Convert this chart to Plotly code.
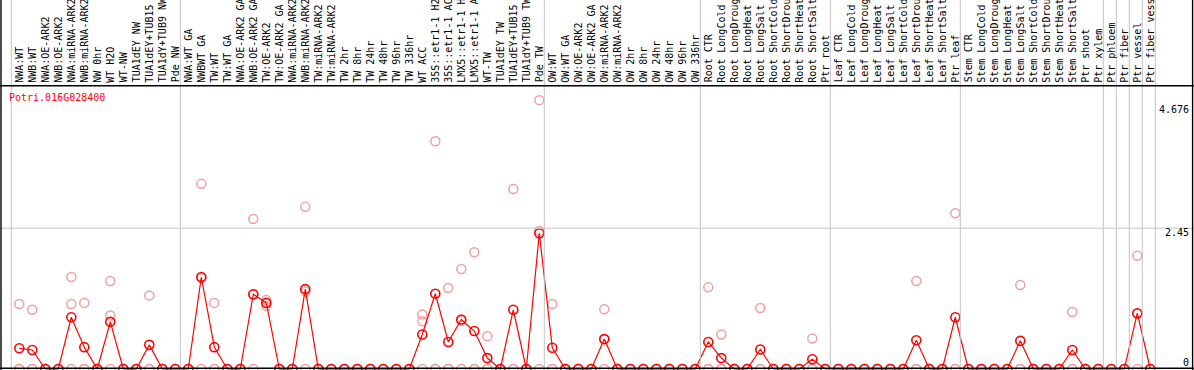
import plotly.graph_objects as go

gene = "Potri.016G028400"

samples = [
    "NWA:WT", "NWB:WT", "NWA:OE-ARK2", "NWB:OE-ARK2", "NWA:miRNA-ARK2", "NWB:miRNA-ARK2",
    "NW 0hr", "WT H2O", "WT-NW", "TUA1dEY NW", "TUA1dEY+TUB15", "TUA1dY+TUB9 NW", "Pde NW",
    "NWA:WT GA", "NWBWT GA", "TW:WT", "TW:WT GA", "NWA:OE-ARK2 GA", "NWB:OE-ARK2 GA",
    "TW:OE-ARK2", "TW:OE-ARK2 GA", "NWA:miRNA-ARK2", "NWB:miRNA-ARK2", "TW:miRNA-ARK2",
    "TW:miRNA-ARK2", "TW 2hr", "TW 8hr", "TW 24hr", "TW 48hr", "TW 96hr", "TW 336hr",
    "WT ACC", "35S::etr1-1 H2O", "35S::etr1-1 ACC", "LMX5::etr1-1 H2O", "LMX5::etr1-1 ACC",
    "WT-TW", "TUA1dEY TW", "TUA1dEY+TUB15", "TUA1dY+TUB9 TW", "Pde TW",
    "OW:WT", "OW:WT GA", "OW:OE-ARK2", "OW:OE-ARK2 GA", "OW:miRNA-ARK2", "OW:miRNA-ARK2",
    "OW 2hr", "OW 8hr", "OW 24hr", "OW 48hr", "OW 96hr", "OW 336hr",
    "Root CTR", "Root LongCold", "Root LongDrought", "Root LongHeat", "Root LongSalt",
    "Root ShortCold", "Root ShortDrought", "Root ShortHeat", "Root ShortSalt", "Ptr root",
    "Leaf CTR", "Leaf LongCold", "Leaf LongDrought", "Leaf LongHeat", "Leaf LongSalt",
    "Leaf ShortCold", "Leaf ShortDrought", "Leaf ShortHeat", "Leaf ShortSalt", "Ptr leaf",
    "Stem CTR", "Stem LongCold", "Stem LongDrought", "Stem LongHeat", "Stem LongSalt",
    "Stem ShortCold", "Stem ShortDrought", "Stem ShortHeat", "Stem ShortSalt", "Ptr shoot",
    "Ptr xylem", "Ptr phloem", "Ptr fiber", "Ptr vessel", "Ptr fiber vessel",
]

group_sizes = [13, 28, 12, 10, 10, 11, 1, 1, 1, 1]

mean_values = [
    0.36, 0.33, 0, 0, 0.90, 0.38, 0, 0.82, 0, 0, 0.42, 0, 0,
    0, 1.60, 0.38, 0, 0, 1.30, 1.15, 0, 0, 1.39, 0, 0, 0, 0, 0, 0, 0, 0,
    0.60, 1.31, 0.47, 0.86, 0.66, 0.19, 0, 1.03, 0, 2.36,
    0.37, 0, 0, 0, 0.52, 0, 0, 0, 0, 0, 0, 0,
    0.47, 0.19, 0, 0, 0.34, 0, 0, 0, 0.17, 0,
    0, 0, 0, 0, 0, 0, 0.50, 0, 0, 0.90,
    0, 0, 0, 0, 0.49, 0, 0, 0, 0.33, 0,
    0, 0, 0, 0.97, 0,
]

rep1 = [
    1.13, 1.03, 0, 0, 1.60, 1.15, 0, 1.53, 0, 0, 1.28, 0, 0,
    0, 3.22, 1.15, 0, 0, 2.61, 1.20, 0, 0, 2.82, 0, 0, 0, 0, 0, 0, 0, 0,
    0.95, 3.96, 1.41, 1.74, 2.03, 0.57, 0, 3.13, 0, 4.676,
    1.13, 0, 0, 0, 1.04, 0, 0, 0, 0, 0, 0, 0,
    1.42, 0.60, 0, 0, 1.06, 0, 0, 0, 0.53, 0,
    0, 0, 0, 0, 0, 0, 1.53, 0, 0, 2.71,
    0, 0, 0, 0, 1.46, 0, 0, 0, 0.99, 0,
    0, 0, 0, 1.97, 0,
]

rep2 = [
    0, 0, 0, 0, 1.13, 0, 0, 0.93, 0, 0, 0, 0, 0,
    0, 1.58, 0, 0, 0, 1.29, 1.15, 0, 0, 1.35, 0, 0, 0, 0, 0, 0, 0, 0,
    0.83, 0, 0, 0.84, 0, 0, 0, 0, 0, 2.40,
    0, 0, 0, 0, 0.52, 0, 0, 0, 0, 0, 0, 0,
    0, 0, 0, 0, 0, 0, 0, 0, 0, 0,
    0, 0, 0, 0, 0, 0, 0, 0, 0, 0,
    0, 0, 0, 0, 0, 0, 0, 0, 0, 0,
    0, 0, 0, 0.96, 0,
]

rep3 = [
    0, 0, 0, 0, 0, 0, 0, 0, 0, 0, 0, 0, 0,
    0, 0, 0, 0, 0, 0, 1.10, 0, 0, 0, 0, 0, 0, 0, 0, 0, 0, 0,
    0, 0, 0, 0, 0, 0, 0, 0, 0, 0,
    0, 0, 0, 0, 0, 0, 0, 0, 0, 0, 0, 0,
    0, 0, 0, 0, 0, 0, 0, 0, 0, 0,
    0, 0, 0, 0, 0, 0, 0, 0, 0, 0,
    0, 0, 0, 0, 0, 0, 0, 0, 0, 0,
    0, 0, 0, 0, 0,
]

y_ticks = [4.676, 2.45, 0]
y_tick_text = ["4.676", "2.45", "0"]

# ---- layout geometry (pixels) ----
W, H = 1194, 370
COL = 13.0          # pixel width of a column
X0 = 19.3           # pixel x of first point
Y0 = 369.0          # pixel y of value 0
PPU = 57.5          # pixels per unit

def px2x(p):
    return (p - X0) / COL

def px2y(p):
    return (Y0 - p) / PPU

xs = list(range(len(samples)))
FONT = "DejaVu Sans Mono"
CELL_OFF = -1.5 / COL

fig = go.Figure()

pale = "#efa0a0"
for rep in (rep1, rep2, rep3):
    fig.add_trace(go.Scatter(
        x=xs, y=rep, mode="markers",
        marker=dict(symbol="circle-open", size=9, color=pale, line=dict(width=1.5, color=pale)),
        cliponaxis=False, showlegend=False, hoverinfo="skip"))

fig.add_trace(go.Scatter(
    x=xs, y=mean_values, mode="lines+markers",
    line=dict(color="#ff0000", width=1.2),
    marker=dict(symbol="circle-open", size=9, color="#ff0000", line=dict(width=1.6, color="#ff0000")),
    cliponaxis=False, showlegend=False))

shapes = []
bounds = [0]
for g in group_sizes:
    bounds.append(bounds[-1] + g)
for k in bounds:
    xv = k - 0.5 + CELL_OFF
    shapes.append(dict(type="line", xref="x", yref="paper", x0=xv, x1=xv, y0=0, y1=1,
                       line=dict(color="#c4c4c4", width=1)))
shapes.append(dict(type="line", xref="paper", yref="y", x0=0, x1=1, y0=y_ticks[1], y1=y_ticks[1],
                   line=dict(color="#c4c4c4", width=1)))
shapes.append(dict(type="line", xref="paper", yref="y", x0=0, x1=1, y0=px2y(85.7), y1=px2y(85.7),
                   line=dict(color="black", width=1.4)))
shapes.append(dict(type="line", xref="paper", yref="y", x0=0, x1=1, y0=px2y(368.3), y1=px2y(368.3),
                   line=dict(color="black", width=1.6)))
for p in (1.0, 1192.6):
    shapes.append(dict(type="line", xref="x", yref="paper", x0=px2x(p), x1=px2x(p), y0=0, y1=1,
                       line=dict(color="black", width=1.4)))

annotations = []
for i, name in enumerate(samples):
    annotations.append(dict(
        x=i, y=px2y(83.5), xref="x", yref="y", text=name, showarrow=False,
        textangle=-90, xanchor="center", yanchor="bottom", borderpad=0,
        font=dict(family=FONT, size=10, color="black")))

tick_px = [109, 232, 362]
for v, t, p in zip(y_ticks, y_tick_text, tick_px):
    annotations.append(dict(
        x=px2x(1190), y=px2y(p), xref="x", yref="y", text=t, showarrow=False,
        xanchor="right", yanchor="middle", borderpad=0,
        font=dict(family=FONT, size=10, color="black")))

annotations.append(dict(
    x=px2x(8), y=px2y(97.5), xref="x", yref="y", text=gene, showarrow=False,
    xanchor="left", yanchor="middle", borderpad=0,
    font=dict(family=FONT, size=10, color="#ff0000")))

fig.update_layout(
    width=W, height=H,
    margin=dict(l=0, r=0, t=0, b=0),
    paper_bgcolor="white", plot_bgcolor="white",
    xaxis=dict(range=[px2x(0), px2x(W)], showgrid=False, zeroline=False, showticklabels=False,
               showline=False, fixedrange=True),
    yaxis=dict(range=[px2y(H), px2y(0)], showgrid=False, zeroline=False, showticklabels=False,
               showline=False, fixedrange=True),
    shapes=shapes, annotations=annotations, showlegend=False,
)

fig.write_html(
    "out.html",
    config={"displayModeBar": False},
    post_script="document.body.style.margin='0';document.body.style.padding='0';document.body.style.overflow='hidden';",
)
